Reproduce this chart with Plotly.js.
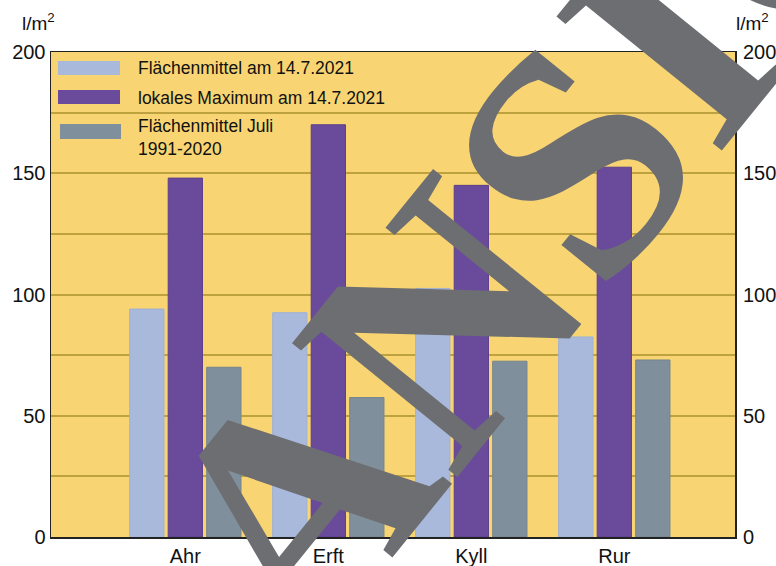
<!DOCTYPE html>
<html>
<head>
<meta charset="utf-8">
<script src="https://cdn.plot.ly/plotly-3.0.1.min.js"></script>
<style>
  html, body { margin: 0; padding: 0; background: #ffffff; }
  #chart { width: 776px; height: 566px; }
</style>
</head>
<body>
<div id="chart"></div>
<script>
// ---- data ----
const categories = ['Ahr', 'Erft', 'Kyll', 'Rur'];
const flaechenmittel2021 = [94, 92.5, 102.5, 82.5];
const lokalesMaximum2021 = [148, 170, 145, 152.5];
const flaechenmittelJuli = [70, 57.5, 72.5, 73];
const seriesNames = ['Flächenmittel am 14.7.2021', 'lokales Maximum am 14.7.2021', 'Flächenmittel Juli<br>1991-2020'];
const yTickVals = [0, 50, 100, 150, 200];
const yTickText = ['0', '50', '100', '150', '200'];
const unitLabel = 'l/m<sup>2</sup>';
const watermarkText = 'ANSICHT';

// ---- styling ----
const colors = ['#a9b9dc', '#6a4b9b', '#808f9c'];
const edgeColors = ['#9fb0d4', '#5b3f8c', '#75848f'];
const font = 'Liberation Sans, Arial, sans-serif';

const seriesValues = [flaechenmittel2021, lokalesMaximum2021, flaechenmittelJuli];
const traces = seriesValues.map((vals, i) => ({
  type: 'bar',
  x: categories,
  y: vals,
  name: seriesNames[i],
  marker: { color: colors[i], line: { color: edgeColors[i], width: 1 } },
  hoverinfo: 'x+y',
  showlegend: false
}));

// plot area in pixels: x 51..735, y 52..537
const L = 51, R = 735, T = 52, B = 537;
const px = v => (v - L) / (R - L);
const py = v => (B - v) / (B - T);

// watermark first (so labels can sit above it)
const annotations = [{
  xref: 'paper', yref: 'paper', x: px(686), y: py(20), xanchor: 'center', yanchor: 'middle',
  text: '<b>' + watermarkText + '</b>', showarrow: false, textangle: -51,
  font: { family: 'Liberation Serif, Times New Roman, serif', size: 325, color: '#6d6e71' }
}];

// manual legend (wide swatches)
const legendRows = [
  { sw: [58, 120, 61, 75], tx: 136, ty: 68 },
  { sw: [58, 120, 90, 104], tx: 136, ty: 98 },
  { sw: [60, 121, 124, 139], tx: 136, ty: 137.5 }
];
const shapes = legendRows.map((r, i) => ({
  type: 'rect', xref: 'paper', yref: 'paper',
  x0: px(r.sw[0]), x1: px(r.sw[1]), y0: py(r.sw[3]), y1: py(r.sw[2]),
  fillcolor: colors[i], line: { width: 0 }, layer: 'above'
}));
legendRows.forEach((r, i) => annotations.push({
  xref: 'paper', yref: 'paper', x: px(r.tx), y: py(r.ty),
  xanchor: 'left', yanchor: 'middle', align: 'left',
  text: seriesNames[i], showarrow: false,
  font: { family: font, size: 17.5, color: '#111111' }
}));

// unit labels on both sides
annotations.push(
  { xref: 'paper', yref: 'paper', x: px(38), y: py(22), xanchor: 'center', yanchor: 'middle',
    text: unitLabel, showarrow: false, bgcolor: '#ffffff', font: { family: font, size: 19, color: '#111' } },
  { xref: 'paper', yref: 'paper', x: px(752), y: py(22), xanchor: 'center', yanchor: 'middle',
    text: unitLabel, showarrow: false, bgcolor: '#ffffff', font: { family: font, size: 19, color: '#111' } }
);
// right-hand tick labels (mirror of left axis)
yTickVals.forEach((v, i) => annotations.push({
  xref: 'paper', yref: 'y', x: px(741), y: v, xanchor: 'left', yanchor: 'middle',
  text: yTickText[i], showarrow: false, bgcolor: '#ffffff',
  font: { family: font, size: 20, color: '#111' }
}));

const gridColor = '#bda23f';
const layout = {
  width: 776, height: 566,
  margin: { l: L, r: 776 - R, t: T, b: 566 - B, pad: 0 },
  paper_bgcolor: '#ffffff',
  plot_bgcolor: '#f8d572',
  barmode: 'group',
  bargap: 0.192,
  bargroupgap: 0.11,
  showlegend: false,
  font: { family: font, size: 20, color: '#111111' },
  xaxis: {
    type: 'category',
    range: [-0.9395, 3.844],
    showgrid: false,
    ticks: '',
    showline: true, mirror: true, linecolor: '#222222', linewidth: 1.5,
    tickfont: { family: font, size: 20, color: '#111' },
    fixedrange: true
  },
  yaxis: {
    range: [0, 200],
    tickvals: yTickVals, ticktext: yTickText,
    showgrid: true, gridcolor: gridColor, gridwidth: 2,
    minor: { dtick: 25, showgrid: true, gridcolor: gridColor, gridwidth: 2, ticks: '' },
    zeroline: false,
    ticks: '',
    showline: true, mirror: true, linecolor: '#222222', linewidth: 1.5,
    tickfont: { family: font, size: 20, color: '#111' },
    fixedrange: true
  },
  shapes: shapes,
  annotations: annotations
};

Plotly.newPlot('chart', traces, layout, { displayModeBar: false, staticPlot: true });
</script>
</body>
</html>
